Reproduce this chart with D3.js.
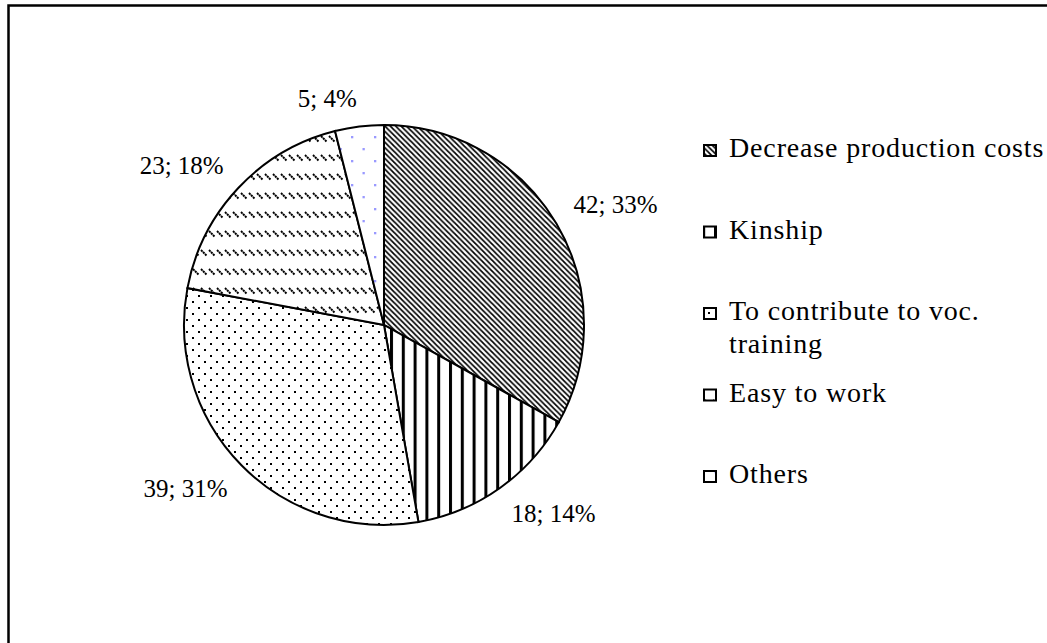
<!DOCTYPE html>
<html>
<head>
<meta charset="utf-8">
<script src="https://cdn.jsdelivr.net/npm/d3@7"></script>
<style>
  body { margin: 0; background: #fff; }
  svg { display: block; }
  text { font-family: "Liberation Serif", "Times New Roman", serif; fill: #000; }
</style>
</head>
<body>
<div id="chart"></div>
<script>
// chart data
var categories = ["Decrease production costs", "Kinship", "To contribute to voc. training", "Easy to work", "Others"];
var legendLines = [["Decrease production costs"], ["Kinship"], ["To contribute to voc.", "training"], ["Easy to work"], ["Others"]];
var values = [42, 18, 39, 23, 5];

var width = 1047, height = 643;
var cx = 384, cy = 325, radius = 200;

var svg = d3.select("#chart").append("svg")
    .attr("width", width)
    .attr("height", height);

// fill patterns (coordinates relative to pie centre)
var defs = svg.append("defs");

var pDiag = defs.append("pattern").attr("id", "pDiag")
    .attr("patternUnits", "userSpaceOnUse").attr("width", 5.4).attr("height", 5.4);
pDiag.append("rect").attr("width", 5.4).attr("height", 5.4).attr("fill", "#fff");
pDiag.append("path").attr("d", "M0,0L5.4,5.4M-1,4.4L1,6.4M4.4,-1L6.4,1")
    .attr("stroke", "#000").attr("stroke-width", 1.7);

var pVert = defs.append("pattern").attr("id", "pVert")
    .attr("patternUnits", "userSpaceOnUse").attr("x", 6).attr("width", 11.8).attr("height", 10);
pVert.append("rect").attr("width", 11.8).attr("height", 10).attr("fill", "#fff");
pVert.append("rect").attr("width", 3).attr("height", 10).attr("fill", "#000");

var pDots = defs.append("pattern").attr("id", "pDots")
    .attr("patternUnits", "userSpaceOnUse").attr("width", 12).attr("height", 12);
pDots.append("rect").attr("width", 12).attr("height", 12).attr("fill", "#fff");
pDots.append("rect").attr("x", 0).attr("y", 0).attr("width", 2).attr("height", 2).attr("fill", "#000");
pDots.append("rect").attr("x", 6).attr("y", 6).attr("width", 2).attr("height", 2).attr("fill", "#000");

// short "\" dashes in horizontal bands
var pDash = defs.append("pattern").attr("id", "pDash")
    .attr("patternUnits", "userSpaceOnUse").attr("width", 8).attr("height", 19);
pDash.append("rect").attr("width", 8).attr("height", 19).attr("fill", "#fff");
pDash.append("path").attr("d", "M1,1L6.5,6.5").attr("stroke", "#000").attr("stroke-width", 1.9)
    .attr("stroke-dasharray", "2.2,0.6");

var pBlue = defs.append("pattern").attr("id", "pBlue")
    .attr("patternUnits", "userSpaceOnUse").attr("x", -33).attr("y", -189)
    .attr("width", 23).attr("height", 24);
pBlue.append("rect").attr("width", 23).attr("height", 24).attr("fill", "#fff");
pBlue.append("rect").attr("x", 0).attr("y", 0).attr("width", 2.3).attr("height", 2.3).attr("fill", "#9999ff");
pBlue.append("rect").attr("x", 11.5).attr("y", 12).attr("width", 2.3).attr("height", 2.3).attr("fill", "#9999ff");

var patternIds = ["pDiag", "pVert", "pDots", "pDash", "pBlue"];

// chart frame
svg.append("rect")
    .attr("x", 8.5).attr("y", 5.5)
    .attr("width", 1100).attr("height", 700)
    .attr("fill", "none").attr("stroke", "#000").attr("stroke-width", 2.5);

var total = d3.sum(values);
var pie = d3.pie().sort(null).value(function(d) { return d; });
var arcs = pie(values);
var arc = d3.arc().innerRadius(0).outerRadius(radius);

var g = svg.append("g").attr("transform", "translate(" + cx + "," + cy + ")");

g.selectAll("path.slice")
    .data(arcs)
  .enter().append("path")
    .attr("class", "slice")
    .attr("d", arc)
    .attr("fill", function(d, i) { return "url(#" + patternIds[i] + ")"; })
    .attr("stroke", "#000")
    .attr("stroke-width", 2);

// data labels: the label corner nearest the pie sits on a ring just outside the rim
var labelSize = 25, gap = 20, capH = 17.5;
arcs.forEach(function(d, i) {
  var a = (d.startAngle + d.endAngle) / 2;
  var s = Math.sin(a), c = -Math.cos(a);
  var px = (radius + gap) * s, py = (radius + gap) * c;
  g.append("text")
      .attr("font-size", labelSize)
      .attr("text-anchor", s >= 0 ? "start" : "end")
      .attr("x", px)
      .attr("y", c >= 0 ? py + capH : py)
      .text(values[i] + "; " + Math.round(values[i] / total * 100) + "%");
});

// legend
var legendX = 704, legendTop = 157, legendStep = 81.5, lineH = 33;
var legend = svg.append("g");
legendLines.forEach(function(lines, i) {
  var y = legendTop + i * legendStep;
  legend.append("rect")
      .attr("x", legendX).attr("y", y - 12)
      .attr("width", 12).attr("height", 11)
      .attr("fill", "url(#" + patternIds[i] + ")")
      .attr("stroke", "#000").attr("stroke-width", 2);
  var t = legend.append("text")
      .attr("x", legendX + 25).attr("y", y)
      .attr("font-size", 28)
      .attr("letter-spacing", 0.85);
  lines.forEach(function(l, j) {
    t.append("tspan").attr("x", legendX + 25).attr("y", y + j * lineH).text(l);
  });
});
</script>
</body>
</html>
